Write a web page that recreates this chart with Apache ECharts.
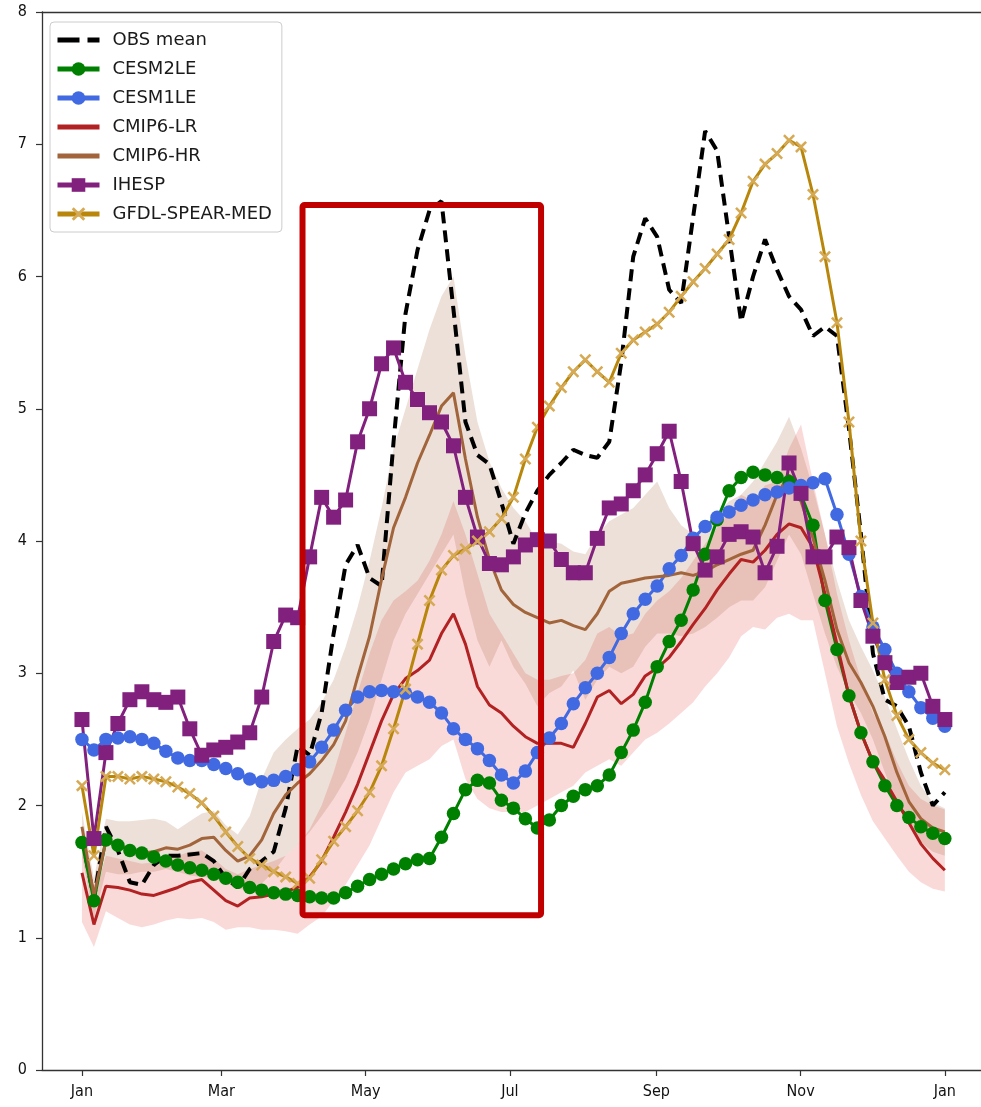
<!DOCTYPE html>
<html>
<head>
<meta charset="utf-8">
<script src="https://cdn.jsdelivr.net/npm/echarts@6/dist/echarts.min.js"></script>
<style>
  html, body { margin: 0; padding: 0; background: #ffffff; }
  #chart { width: 981px; height: 1107px; }
</style>
</head>
<body>
<div id="chart"></div>
<script>
// Pentad climatology: 73 points spread over one calendar year.
const pentadCount = 73;
const dayOfYear = Array.from({ length: pentadCount }, (_, i) => i * 365 / 72);

// Month tick positions (day of year) and their labels.
const monthDays = [0, 59, 120, 181, 243, 304, 365];
const monthLabels = ['Jan', 'Mar', 'May', 'Jul', 'Sep', 'Nov', 'Jan'];

const obsMean = [1.75, 1.30, 1.84, 1.66, 1.42, 1.40, 1.55, 1.62, 1.62, 1.63,
  1.64, 1.58, 1.45, 1.38, 1.52, 1.58, 1.65, 1.98, 2.45, 2.38,
  2.70, 3.30, 3.82, 3.97, 3.72, 3.66, 4.75, 5.72, 6.20, 6.50,
  6.57, 5.75, 4.90, 4.65, 4.58, 4.29, 3.98, 4.21, 4.38, 4.50,
  4.59, 4.69, 4.65, 4.63, 4.75, 5.35, 6.15, 6.44, 6.30, 5.90,
  5.80, 6.45, 7.10, 6.95, 6.30, 5.66, 6.00, 6.28, 6.05, 5.85,
  5.75, 5.55, 5.62, 5.55, 4.85, 4.05, 3.15, 2.80, 2.75, 2.60,
  2.25, 2.00, 2.10];

const cesm2le = [1.72, 1.28, 1.74, 1.70, 1.66, 1.64, 1.61, 1.58, 1.55, 1.53,
  1.51, 1.48, 1.45, 1.42, 1.38, 1.36, 1.34, 1.33, 1.32, 1.31,
  1.30, 1.30, 1.34, 1.39, 1.44, 1.48, 1.52, 1.56, 1.59, 1.60,
  1.76, 1.94, 2.12, 2.19, 2.17, 2.04, 1.98, 1.90, 1.83, 1.89,
  2.00, 2.07, 2.12, 2.15, 2.23, 2.40, 2.57, 2.78, 3.05, 3.24,
  3.40, 3.63, 3.90, 4.16, 4.38, 4.48, 4.52, 4.50, 4.48, 4.45,
  4.35, 4.12, 3.55, 3.18, 2.83, 2.55, 2.33, 2.15, 2.00, 1.91,
  1.84, 1.79, 1.75];

const cesm1le = [2.50, 2.42, 2.50, 2.51, 2.52, 2.50, 2.47, 2.41, 2.36, 2.34,
  2.34, 2.31, 2.28, 2.24, 2.20, 2.18, 2.19, 2.22, 2.27, 2.33,
  2.44, 2.57, 2.72, 2.82, 2.86, 2.87, 2.86, 2.85, 2.82, 2.78,
  2.70, 2.58, 2.50, 2.43, 2.34, 2.23, 2.17, 2.26, 2.40, 2.51,
  2.62, 2.77, 2.89, 3.00, 3.12, 3.30, 3.45, 3.56, 3.66, 3.79,
  3.89, 4.02, 4.11, 4.18, 4.22, 4.27, 4.31, 4.35, 4.37, 4.40,
  4.42, 4.44, 4.47, 4.20, 3.90, 3.58, 3.35, 3.18, 3.00, 2.86,
  2.74, 2.66, 2.60];

const cmip6Lr = [1.49, 1.10, 1.39, 1.38, 1.36, 1.33, 1.32, 1.35, 1.38, 1.42,
  1.44, 1.36, 1.28, 1.24, 1.30, 1.31, 1.33, 1.35, 1.38, 1.46,
  1.58, 1.76, 1.95, 2.16, 2.40, 2.64, 2.84, 2.96, 3.02, 3.10,
  3.30, 3.45, 3.22, 2.90, 2.76, 2.70, 2.60, 2.52, 2.47, 2.47,
  2.47, 2.44, 2.62, 2.82, 2.87, 2.77, 2.84, 2.98, 3.04, 3.12,
  3.24, 3.37, 3.49, 3.63, 3.75, 3.86, 3.84, 3.93, 4.05, 4.13,
  4.10, 3.95, 3.60, 3.22, 2.83, 2.55, 2.33, 2.19, 2.03, 1.87,
  1.71, 1.60, 1.51];
const cmip6LrLow = [1.12, 0.93, 1.20, 1.15, 1.10, 1.08, 1.10, 1.13, 1.15, 1.14,
  1.15, 1.12, 1.06, 1.08, 1.08, 1.06, 1.06, 1.05, 1.03, 1.10,
  1.16, 1.28, 1.40, 1.55, 1.70, 1.90, 2.10, 2.25, 2.30, 2.35,
  2.45, 2.50, 2.20, 2.05, 1.98, 1.95, 1.95, 1.95, 2.00, 2.05,
  2.10, 2.15, 2.25, 2.30, 2.35, 2.30, 2.40, 2.50, 2.55, 2.62,
  2.70, 2.78, 2.90, 3.00, 3.12, 3.28, 3.35, 3.33, 3.42, 3.45,
  3.40, 3.40, 3.00, 2.60, 2.32, 2.08, 1.88, 1.75, 1.62, 1.50,
  1.42, 1.37, 1.35];
const cmip6LrHigh = [1.75, 1.30, 1.62, 1.60, 1.58, 1.56, 1.57, 1.60, 1.62, 1.65,
  1.66, 1.60, 1.52, 1.48, 1.52, 1.55, 1.58, 1.62, 1.70, 1.82,
  2.00, 2.25, 2.55, 2.85, 3.15, 3.40, 3.55, 3.62, 3.70, 3.85,
  4.05, 4.30, 4.05, 3.75, 3.45, 3.30, 3.15, 3.00, 2.95, 2.95,
  2.98, 3.00, 3.10, 3.30, 3.35, 3.28, 3.30, 3.45, 3.55, 3.62,
  3.72, 3.85, 3.98, 4.10, 4.22, 4.35, 4.30, 4.42, 4.45, 4.70,
  4.88, 4.45, 4.05, 3.60, 3.25, 2.95, 2.70, 2.55, 2.33, 2.15,
  2.05, 2.00, 1.97];

const cmip6Hr = [1.84, 1.32, 1.73, 1.70, 1.67, 1.64, 1.65, 1.68, 1.67, 1.70,
  1.75, 1.76, 1.66, 1.58, 1.62, 1.74, 1.94, 2.08, 2.17, 2.24,
  2.34, 2.46, 2.64, 2.97, 3.28, 3.71, 4.10, 4.33, 4.59, 4.80,
  5.02, 5.12, 4.62, 4.18, 3.86, 3.63, 3.52, 3.46, 3.42, 3.38,
  3.40, 3.36, 3.33, 3.45, 3.62, 3.68, 3.70, 3.72, 3.73, 3.74,
  3.76, 3.74, 3.77, 3.82, 3.86, 3.90, 3.93, 4.12, 4.35, 4.50,
  4.30, 4.02, 3.70, 3.33, 3.08, 2.93, 2.75, 2.52, 2.25, 2.03,
  1.90, 1.83, 1.80];
const cmip6HrLow = [1.62, 1.15, 1.50, 1.48, 1.48, 1.50, 1.50, 1.52, 1.50, 1.47,
  1.46, 1.45, 1.42, 1.37, 1.36, 1.41, 1.50, 1.62, 1.70, 1.80,
  1.92, 2.05, 2.20, 2.40, 2.65, 2.95, 3.25, 3.45, 3.60, 3.75,
  3.90, 4.05, 3.60, 3.25, 3.05, 3.25, 3.05, 2.92, 2.75, 2.85,
  2.90, 3.02, 2.80, 2.95, 3.05, 3.00, 3.05, 3.20, 3.30, 3.30,
  3.28, 3.30, 3.35, 3.42, 3.50, 3.55, 3.55, 3.65, 3.85, 4.05,
  3.90, 3.60, 3.30, 3.05, 2.85, 2.70, 2.50, 2.25, 2.02, 1.85,
  1.72, 1.65, 1.62];
const cmip6HrHigh = [1.95, 1.45, 1.90, 1.88, 1.88, 1.89, 1.90, 1.88, 1.82, 1.88,
  1.94, 1.96, 1.85, 1.78, 1.92, 2.20, 2.40, 2.50, 2.58, 2.65,
  2.78, 2.95, 3.20, 3.50, 3.85, 4.25, 4.70, 5.00, 5.30, 5.60,
  5.85, 6.00, 5.40, 4.90, 4.60, 4.40, 4.25, 4.15, 4.00, 4.00,
  3.98, 3.92, 3.90, 4.05, 4.15, 4.20, 4.25, 4.35, 4.45, 4.25,
  4.12, 4.05, 4.10, 4.20, 4.30, 4.35, 4.45, 4.60, 4.75, 4.94,
  4.70, 4.40, 4.05, 3.70, 3.40, 3.20, 3.02, 2.82, 2.58, 2.35,
  2.15, 2.02, 1.98];

const ihesp = [2.65, 1.75, 2.40, 2.62, 2.80, 2.86, 2.80, 2.78, 2.82, 2.58,
  2.38, 2.42, 2.44, 2.48, 2.55, 2.82, 3.24, 3.44, 3.42, 3.88,
  4.33, 4.18, 4.31, 4.75, 5.00, 5.34, 5.46, 5.20, 5.07, 4.97,
  4.90, 4.72, 4.33, 4.03, 3.83, 3.82, 3.88, 3.97, 4.01, 4.00,
  3.86, 3.76, 3.76, 4.02, 4.25, 4.28, 4.38, 4.50, 4.66, 4.83,
  4.45, 3.98, 3.78, 3.88, 4.05, 4.07, 4.03, 3.76, 3.96, 4.59,
  4.36, 3.88, 3.88, 4.03, 3.95, 3.55, 3.28, 3.08, 2.93, 2.97,
  3.00, 2.75, 2.65];

const gfdlSpearMed = [2.15, 1.62, 2.22, 2.22, 2.20, 2.22, 2.20, 2.18, 2.14, 2.09,
  2.02, 1.92, 1.80, 1.69, 1.60, 1.55, 1.50, 1.46, 1.41, 1.45,
  1.59, 1.73, 1.84, 1.96, 2.10, 2.30, 2.58, 2.88, 3.22, 3.55,
  3.78, 3.89, 3.94, 4.00, 4.07, 4.17, 4.33, 4.62, 4.86, 5.02,
  5.16, 5.28, 5.37, 5.28, 5.20, 5.42, 5.52, 5.58, 5.64, 5.73,
  5.85, 5.96, 6.06, 6.17, 6.28, 6.48, 6.72, 6.85, 6.93, 7.03,
  6.98, 6.62, 6.15, 5.65, 4.90, 4.00, 3.38, 2.95, 2.68, 2.50,
  2.40, 2.32, 2.27];

// Highlighted window (day of year / value range) outlined in red.
const highlightDays = [93.3, 194.2];
const highlightLevels = [1.17, 6.54];

const pairs = arr => dayOfYear.map((d, i) => [d, arr[i]]);

const xMarker = 'path://M0,1.5 L1.5,0 L5,3.5 L8.5,0 L10,1.5 L6.5,5 L10,8.5 L8.5,10 L5,6.5 L1.5,10 L0,8.5 L3.5,5 Z';

function bandSeries(low, high, fill) {
  return {
    type: 'custom',
    silent: true,
    z: 1,
    data: dayOfYear.map((d, i) => [d, low[i], high[i]]),
    encode: { x: 0, y: [1, 2] },
    renderItem: function (params, api) {
      if (params.dataIndex !== 0) return null;
      const pts = [];
      for (let i = 0; i < dayOfYear.length; i++) pts.push(api.coord([dayOfYear[i], high[i]]));
      for (let i = dayOfYear.length - 1; i >= 0; i--) pts.push(api.coord([dayOfYear[i], low[i]]));
      return { type: 'polygon', shape: { points: pts }, style: { fill: fill, stroke: null } };
    }
  };
}

function lineSeries(name, values, color, opts) {
  return Object.assign({
    type: 'line',
    name: name,
    data: pairs(values),
    symbol: 'none',
    lineStyle: { color: color, width: 3 },
    itemStyle: { color: color },
    emphasis: { disabled: true },
    animation: false,
    z: 5
  }, opts || {});
}

const axisColor = '#333333';
const labelFont = "'DejaVu Sans Condensed', 'DejaVu Sans', sans-serif";
const hiddenLegendSymbol = { opacity: 0 };

const chart = echarts.init(document.getElementById('chart'), null, { renderer: 'canvas' });

chart.setOption({
  animation: false,
  backgroundColor: '#ffffff',
  grid: { left: 42, right: 0, top: 12, bottom: 37 },
  legend: {
    orient: 'vertical',
    left: 50,
    top: 22,
    padding: [9, 10, 9, 5],
    itemWidth: 42,
    itemHeight: 17,
    itemGap: 11,
    selectedMode: false,
    backgroundColor: 'rgba(255,255,255,0.85)',
    borderColor: '#cccccc',
    borderWidth: 1,
    borderRadius: 4,
    lineStyle: { width: 5 },
    textStyle: { fontFamily: 'DejaVu Sans', fontSize: 18, color: '#1a1a1a', padding: [0, 0, 0, 8] },
    data: [
      { name: 'OBS mean', itemStyle: hiddenLegendSymbol, lineStyle: { width: 5, type: [22, 8] } },
      { name: 'CESM2LE' },
      { name: 'CESM1LE' },
      { name: 'CMIP6-LR', itemStyle: hiddenLegendSymbol },
      { name: 'CMIP6-HR', itemStyle: hiddenLegendSymbol },
      { name: 'IHESP' },
      { name: 'GFDL-SPEAR-MED' }
    ]
  },
  xAxis: [{
    type: 'value',
    min: -16.9,
    max: 380.3,
    position: 'bottom',
    axisLine: { show: true, onZero: false, lineStyle: { color: axisColor, width: 1.3 } },
    axisTick: { show: true, customValues: monthDays, length: 6, lineStyle: { color: axisColor, width: 1.2 } },
    axisLabel: {
      customValues: monthDays,
      formatter: v => monthLabels[monthDays.indexOf(v)],
      fontFamily: labelFont, fontSize: 16, color: '#111', margin: 14
    },
    splitLine: { show: false }
  }, {
    type: 'value',
    min: -16.9,
    max: 380.3,
    position: 'top',
    axisLine: { show: true, onZero: false, lineStyle: { color: axisColor, width: 1.3 } },
    axisTick: { show: false },
    axisLabel: { show: false },
    splitLine: { show: false }
  }],
  yAxis: {
    type: 'value',
    min: 0,
    max: 8,
    interval: 1,
    axisLine: { show: true, onZero: false, lineStyle: { color: axisColor, width: 1.3 } },
    axisTick: { show: true, length: 6, lineStyle: { color: axisColor, width: 1.2 } },
    axisLabel: { fontFamily: labelFont, fontSize: 16, color: '#111', margin: 15 },
    splitLine: { show: false }
  },
  series: [
    bandSeries(cmip6LrLow, cmip6LrHigh, 'rgba(240,128,128,0.30)'),
    bandSeries(cmip6HrLow, cmip6HrHigh, 'rgba(160,100,60,0.20)'),
    lineSeries('OBS mean', obsMean, '#000000', {
      lineStyle: { color: '#000000', width: 4, type: [12, 7] }
    }),
    lineSeries('CESM2LE', cesm2le, '#008000', { symbol: 'circle', symbolSize: 13.5 }),
    lineSeries('CESM1LE', cesm1le, '#4169e1', { symbol: 'circle', symbolSize: 13.5 }),
    lineSeries('CMIP6-LR', cmip6Lr, '#b22222'),
    lineSeries('CMIP6-HR', cmip6Hr, '#a2643a'),
    lineSeries('IHESP', ihesp, '#82207e', { symbol: 'rect', symbolSize: 15 }),
    lineSeries('GFDL-SPEAR-MED', gfdlSpearMed, '#b8860b', {
      symbol: xMarker, symbolSize: 12,
      itemStyle: { color: '#d6aa55' }
    }),
    {
      type: 'custom',
      silent: true,
      z: 20,
      data: [[highlightDays[0], highlightLevels[1], highlightDays[1], highlightLevels[0]]],
      encode: { x: [0, 2], y: [1, 3] },
      renderItem: function (params, api) {
        const p0 = api.coord([api.value(0), api.value(1)]);
        const p1 = api.coord([api.value(2), api.value(3)]);
        return {
          type: 'rect',
          shape: { x: p0[0], y: p0[1], width: p1[0] - p0[0], height: p1[1] - p0[1], r: 2 },
          style: { fill: null, stroke: '#c00000', lineWidth: 6 }
        };
      }
    }
  ]
});
</script>
</body>
</html>
